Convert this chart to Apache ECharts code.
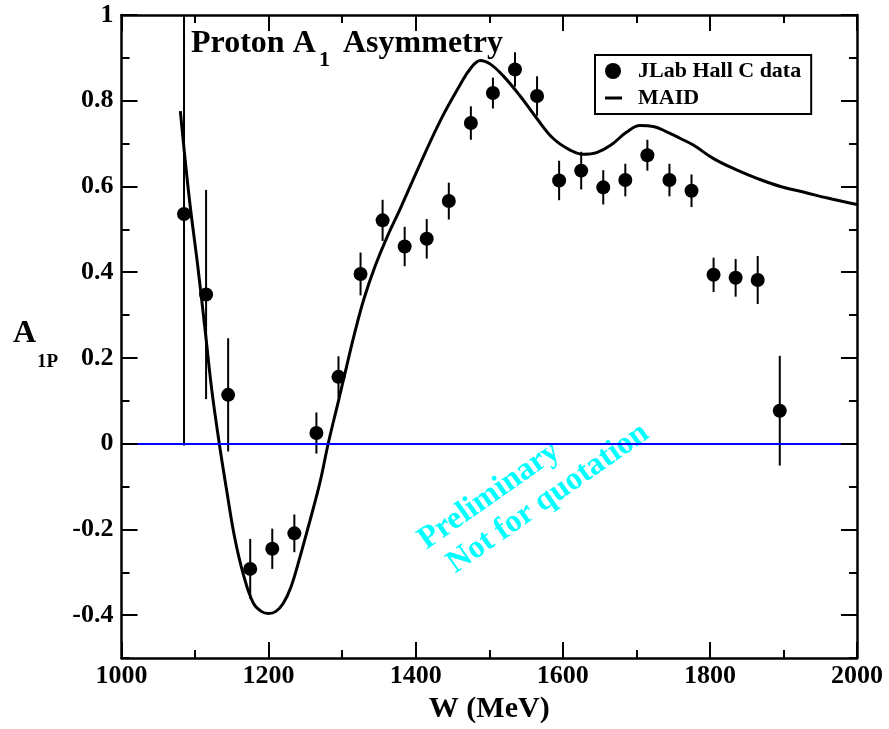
<!DOCTYPE html>
<html><head><meta charset="utf-8">
<script src="https://cdn.jsdelivr.net/npm/echarts@6/dist/echarts.min.js"></script>
<style>html,body{margin:0;padding:0;background:#fff}#c{width:889px;height:729px}</style>
</head><body><div id="c"></div>
<script>
const FONT = "'Liberation Serif', 'Times New Roman', serif";

// JLab Hall C data
const dataW = [1085,1115,1145,1175,1205,1235,1265,1295,1325,1355,1385,1415,1445,1475,1505,1535,1565,1595,1625,1655,1685,1715,1745,1775,1805,1835,1865,1895];
const dataA = [0.536,0.348,0.114,-0.292,-0.245,-0.209,0.025,0.156,0.396,0.521,0.460,0.478,0.566,0.748,0.818,0.873,0.811,0.614,0.637,0.598,0.615,0.673,0.615,0.590,0.394,0.387,0.382,0.077];
const dataErr = [0.54,0.244,0.132,0.07,0.047,0.044,0.048,0.048,0.05,0.048,0.046,0.046,0.043,0.039,0.036,0.04,0.046,0.046,0.044,0.04,0.038,0.036,0.038,0.038,0.04,0.044,0.056,0.128];

// MAID curve
const maidW = [1080,1092,1104,1114,1123,1133,1143,1154,1166,1179,1190,1200,1210,1220,1230,1243,1256,1270,1281,1295,1306,1318,1330,1345,1360,1380,1402,1433,1460,1474,1488,1501,1519,1542,1565,1587,1610,1628,1646,1665,1687,1705,1723,1742,1760,1778,1805,1837,1864,1896,1932,1960,2000];
const maidA = [0.776,0.575,0.41,0.26,0.122,0.0,-0.109,-0.22,-0.307,-0.371,-0.391,-0.396,-0.391,-0.372,-0.336,-0.262,-0.181,-0.089,0.0,0.1,0.18,0.265,0.34,0.415,0.478,0.552,0.637,0.752,0.836,0.874,0.894,0.886,0.858,0.811,0.758,0.712,0.685,0.675,0.679,0.696,0.727,0.742,0.740,0.727,0.712,0.696,0.665,0.638,0.619,0.600,0.585,0.573,0.558];

// tick values
const yLabelVals = [-0.4,-0.2,0,0.2,0.4,0.6,0.8,1];

const chart = echarts.init(document.getElementById('c'), null, {renderer:'canvas'});

const axisLineStyle = {color:'#000', width:2.5};
const tickStyle = {color:'#000', width:2};
const labelStyle = {color:'#000', fontFamily:FONT, fontWeight:'bold', fontSize:26};

function xAx(pos, showLabel) {
  return {
    type:'value', position:pos, min:1000, max:2000, interval:200, z:5,
    axisLine:{show:true, onZero:false, lineStyle:axisLineStyle},
    axisTick:{show:true, inside:true, length:16, lineStyle:tickStyle},
    minorTick:{show:true, splitNumber:2, length:8, lineStyle:tickStyle},
    axisLabel:Object.assign({show:showLabel, margin:5, formatter:function(v){return String(v);}}, labelStyle),
    splitLine:{show:false}, minorSplitLine:{show:false},
    name: showLabel ? 'W (MeV)' : '', nameLocation:'middle', nameGap:31,
    nameTextStyle:{color:'#000', fontFamily:FONT, fontWeight:'bold', fontSize:30}
  };
}
function yMinor(pos, showLabel) {
  return {
    type:'value', position:pos, min:-0.5, max:1, interval:0.1, z:5,
    axisLine:{show:true, onZero:false, lineStyle:axisLineStyle},
    axisTick:{show:true, inside:true, length:8, lineStyle:tickStyle},
    axisLabel:Object.assign({show:showLabel, margin:8, customValues:yLabelVals, formatter:function(v){return String(Math.round(v*10)/10);}}, labelStyle),
    splitLine:{show:false}
  };
}
function yMajor(pos) {
  return {
    type:'value', position:pos, min:-0.5, max:1, z:5,
    axisLine:{show:false, onZero:false},
    axisTick:{show:true, inside:true, length:16, lineStyle:tickStyle, customValues:yLabelVals},
    axisLabel:{show:false},
    splitLine:{show:false}
  };
}

const option = {
  animation:false,
  backgroundColor:'#fff',
  grid:{left:121.5, right:32, top:15, bottom:64, containLabel:false},
  xAxis:[xAx('bottom', true), xAx('top', false)],
  yAxis:[yMinor('left', true), yMajor('left'), yMinor('right', false), yMajor('right')],
  legend:{
    left:595, top:55, orient:'vertical', selectedMode:false,
    padding:[5,10,5,4], itemGap:5, itemWidth:28, itemHeight:16,
    borderColor:'#000', borderWidth:2, backgroundColor:'#fff',
    textStyle:{color:'#000', fontFamily:FONT, fontWeight:'bold', fontSize:22, lineHeight:22, padding:[0,0,0,6]},
    data:[
      {name:'JLab Hall C data', icon:'circle', itemStyle:{color:'#000', opacity:1}},
      {name:'MAID', icon:'path://M0,0 L0,16 M28,0 L28,16 M6,6.5 L23,6.5 L23,9.5 L6,9.5 Z', itemStyle:{color:'#000', borderWidth:0}}
    ]
  },
  graphic:[
    {type:'text', x:191, y:44, style:{text:'Proton A', fill:'#000', font:"bold 32px " + FONT, verticalAlign:'middle', align:'left'}},
    {type:'text', x:319, y:60.5, style:{text:'1', fill:'#000', font:"bold 22px " + FONT, verticalAlign:'middle', align:'left'}},
    {type:'text', x:343, y:44, style:{text:'Asymmetry', fill:'#000', font:"bold 32px " + FONT, verticalAlign:'middle', align:'left'}},
    {type:'text', x:13, y:334, style:{text:'A', fill:'#000', font:"bold 32px " + FONT, verticalAlign:'middle', align:'left'}},
    {type:'text', x:37, y:362, style:{text:'1P', fill:'#000', font:"bold 19px " + FONT, verticalAlign:'middle', align:'left'}},
    {type:'group', x:428, y:552, rotation:35*Math.PI/180, children:[
      {type:'text', x:0, y:-11, style:{text:'Preliminary', fill:'#00FFFF', font:"bold 32px " + FONT, verticalAlign:'middle', align:'left'}},
      {type:'text', x:10, y:25, style:{text:'Not for quotation', fill:'#00FFFF', font:"bold 32px " + FONT, verticalAlign:'middle', align:'left'}}
    ]}
  ],
  series:[
    {
      name:'MAID', type:'line', xAxisIndex:0, yAxisIndex:0,
      data: maidW.map((w,i)=>[w, maidA[i]]),
      showSymbol:false, symbol:'none', smooth:0.4,
      lineStyle:{color:'#000', width:3}, itemStyle:{color:'#000'}, z:3,
      markLine:{silent:true, symbol:'none', label:{show:false},
        lineStyle:{color:'#0000ff', width:2, type:'solid'},
        emphasis:{disabled:true},
        data:[{yAxis:0}]}
    },
    {
      name:'errors', type:'custom', xAxisIndex:0, yAxisIndex:0, clip:true, silent:true, z:4,
      data: dataW.map((w,i)=>[w, dataA[i]-dataErr[i], dataA[i]+dataErr[i]]),
      encode:{x:0, y:[1,2]},
      renderItem:function(params, api){
        const p1 = api.coord([api.value(0), api.value(1)]);
        const p2 = api.coord([api.value(0), api.value(2)]);
        return {type:'line', shape:{x1:p1[0], y1:p1[1], x2:p2[0], y2:p2[1]}, style:{stroke:'#000', lineWidth:2}};
      }
    },
    {
      name:'JLab Hall C data', type:'scatter', xAxisIndex:0, yAxisIndex:0,
      data: dataW.map((w,i)=>[w, dataA[i]]),
      symbol:'circle', symbolSize:14, itemStyle:{color:'#000', opacity:1}, z:5
    }
  ]
};
chart.setOption(option);
</script>
</body></html>
